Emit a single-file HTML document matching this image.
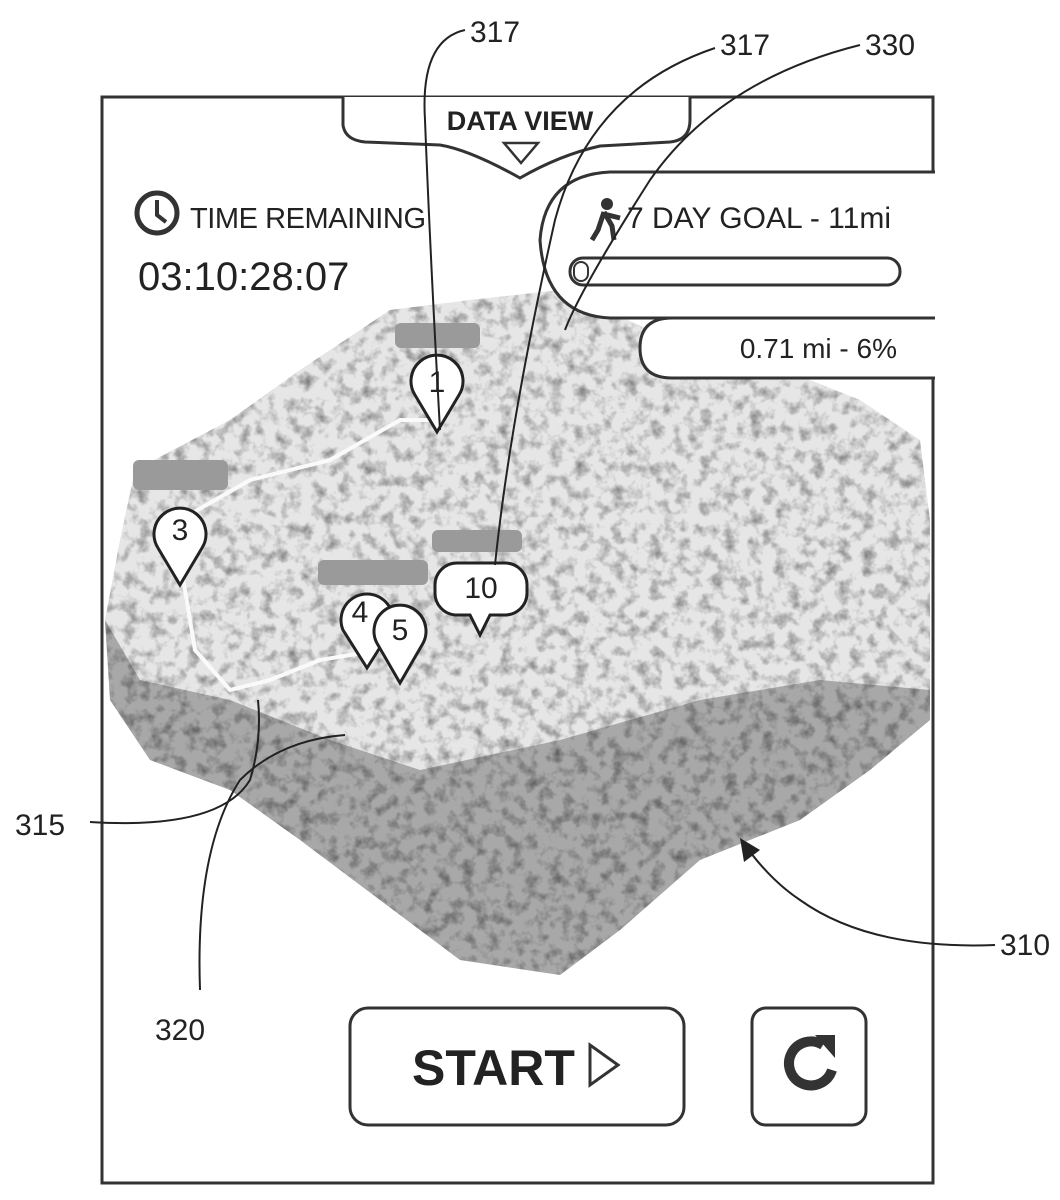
<!DOCTYPE html>
<html><head><meta charset="utf-8"><style>
body{margin:0;background:#fff;}
svg{display:block}
text{font-family:"Liberation Sans",Arial,sans-serif;fill:#222}
</style></head><body>
<svg width="1060" height="1200" viewBox="0 0 1060 1200" xmlns="http://www.w3.org/2000/svg">
<defs>
<filter id="n" x="0" y="0" width="100%" height="100%">
<feTurbulence type="fractalNoise" baseFrequency="0.08" numOctaves="3" seed="3"/>
<feColorMatrix type="matrix" values="0 0 0 0 0  0 0 0 0 0  0 0 0 0 0  0 0 0 -2 1.1"/>
<feComposite in2="SourceGraphic" operator="in"/>
</filter>
</defs>
<rect width="1060" height="1200" fill="#fff"/>
<rect x="102" y="97" width="831" height="1086" fill="none" stroke="#333" stroke-width="3"/>
<!-- terrain -->
<path d="M105,620 L120,540 L135,470 L230,420 L300,370 L390,310 L470,300 L560,290 L650,330 L760,360 L860,400 L920,440 L930,520 L930,720 L870,770 L800,820 L700,860 L620,930 L560,975 L460,960 L380,900 L300,840 L230,790 L150,760 L110,700 Z" fill="#e6e6e6"/>
<path d="M105,620 L140,680 L230,700 L330,740 L420,770 L560,740 L700,700 L820,680 L930,690 L930,720 L870,770 L800,820 L700,860 L620,930 L560,975 L460,960 L380,900 L300,840 L230,790 L150,760 L110,700 Z" fill="#a8a8a8"/>
<path d="M105,620 L120,540 L135,470 L230,420 L300,370 L390,310 L470,300 L560,290 L650,330 L760,360 L860,400 L920,440 L930,520 L930,720 L870,770 L800,820 L700,860 L620,930 L560,975 L460,960 L380,900 L300,840 L230,790 L150,760 L110,700 Z" fill="#555" filter="url(#n)" opacity="0.45"/>
<path d="M180,560 L195,650 L230,690 L270,680 L320,660 L380,650" fill="none" stroke="#fafafa" stroke-width="4"/>
<path d="M180,520 L250,480 L330,460 L400,420 L440,420" fill="none" stroke="#fafafa" stroke-width="4"/>
<rect x="395" y="323" width="85" height="25" rx="6" fill="#9a9a9a"/>
<rect x="133" y="460" width="95" height="30" rx="6" fill="#9a9a9a"/>
<rect x="432" y="530" width="90" height="22" rx="6" fill="#9a9a9a"/>
<rect x="318" y="560" width="110" height="25" rx="6" fill="#9a9a9a"/>
<g stroke="#222" stroke-width="3" fill="#fff">
<path d="M437,432 L415,395 A26,26 0 1 1 459,395 Z"/>
<path d="M180,585 L158,548 A26,26 0 1 1 202,548 Z"/>
<path d="M367,668 L343,630 A26,26 0 1 1 391,630 Z"/>
<path d="M400,683 L378,645 A26,26 0 1 1 422,645 Z"/>
<path d="M480,635 L470,615 L455,615 A22,22 0 0 1 435,593 L435,585 A22,22 0 0 1 457,563 L505,563 A22,22 0 0 1 527,585 L527,593 A22,22 0 0 1 505,615 L490,615 Z"/>
</g>
<g font-size="30" text-anchor="middle">
<text x="437" y="392">1</text><text x="180" y="540">3</text><text x="360" y="622">4</text><text x="400" y="640">5</text><text x="481" y="598">10</text>
</g>
<path d="M343,97 L343,125 Q345,140 365,142 L440,145 Q470,150 520,178 Q560,155 600,146 L670,142 Q690,140 690,120 L690,97" fill="#fff" stroke="#333" stroke-width="3"/>
<text x="520" y="130" font-size="27" font-weight="bold" text-anchor="middle">DATA VIEW</text>
<path d="M504,143 L538,143 L521,163 Z" fill="#fff" stroke="#333" stroke-width="2.5"/>
<circle cx="157" cy="213" r="20" fill="none" stroke="#333" stroke-width="5"/>
<path d="M157,200 L157,215 L166,222" fill="none" stroke="#333" stroke-width="4"/>
<text x="190" y="228" font-size="29" textLength="236">TIME REMAINING</text>
<text x="138" y="290" font-size="40">03:10:28:07</text>
<path d="M935,172 L610,172 Q545,175 540,240 Q545,315 610,318 L935,318" fill="#fff" stroke="#333" stroke-width="3"/>
<text x="627" y="228" font-size="30">7 DAY GOAL - 11mi</text>
<circle cx="607" cy="204" r="6" fill="#333"/>
<path d="M604,212 L598,230 L592,240 M604,212 L612,226 L614,240 M604,214 L620,218" stroke="#333" stroke-width="5" fill="none"/>
<rect x="570" y="258" width="330" height="27" rx="13" fill="#fff" stroke="#333" stroke-width="3"/>
<rect x="574" y="262" width="14" height="19" rx="7" fill="#fff" stroke="#333" stroke-width="2"/>
<path d="M935,318 L672,318 Q640,318 640,348 Q640,378 672,378 L935,378" fill="#fff" stroke="#333" stroke-width="3"/>
<text x="897" y="358" font-size="28" text-anchor="end">0.71 mi - 6%</text>
<rect x="350" y="1008" width="334" height="117" rx="18" fill="#fff" stroke="#333" stroke-width="3"/>
<text x="412" y="1085" font-size="50" font-weight="bold">START</text>
<path d="M590,1045 L618,1065 L590,1085 Z" fill="none" stroke="#333" stroke-width="3"/>
<rect x="752" y="1008" width="114" height="117" rx="14" fill="#fff" stroke="#333" stroke-width="3"/>
<path d="M823,1045 A22,22 0 1 0 832,1070" fill="none" stroke="#333" stroke-width="10"/>
<path d="M815,1035 L835,1035 L835,1058 Z" fill="#333"/>
<g fill="none" stroke="#222" stroke-width="2">
<path d="M465,30 Q420,40 425,120 Q430,250 440,430"/>
<path d="M715,48 Q590,90 555,220 Q510,420 495,565"/>
<path d="M860,45 Q720,80 650,180 Q580,290 565,330"/>
<path d="M90,822 Q220,830 250,780 Q262,740 258,700"/>
<path d="M200,990 Q195,850 240,780 Q280,740 345,735"/>
<path d="M995,945 Q870,950 800,900 Q770,880 745,845"/>
</g>
<path d="M740,838 L744,862 L760,850 Z" fill="#222"/>
<g font-size="30">
<text x="470" y="42">317</text><text x="720" y="55">317</text><text x="865" y="55">330</text>
<text x="15" y="835">315</text><text x="155" y="1040">320</text><text x="1000" y="955">310</text>
</g>
</svg>
</body></html>
